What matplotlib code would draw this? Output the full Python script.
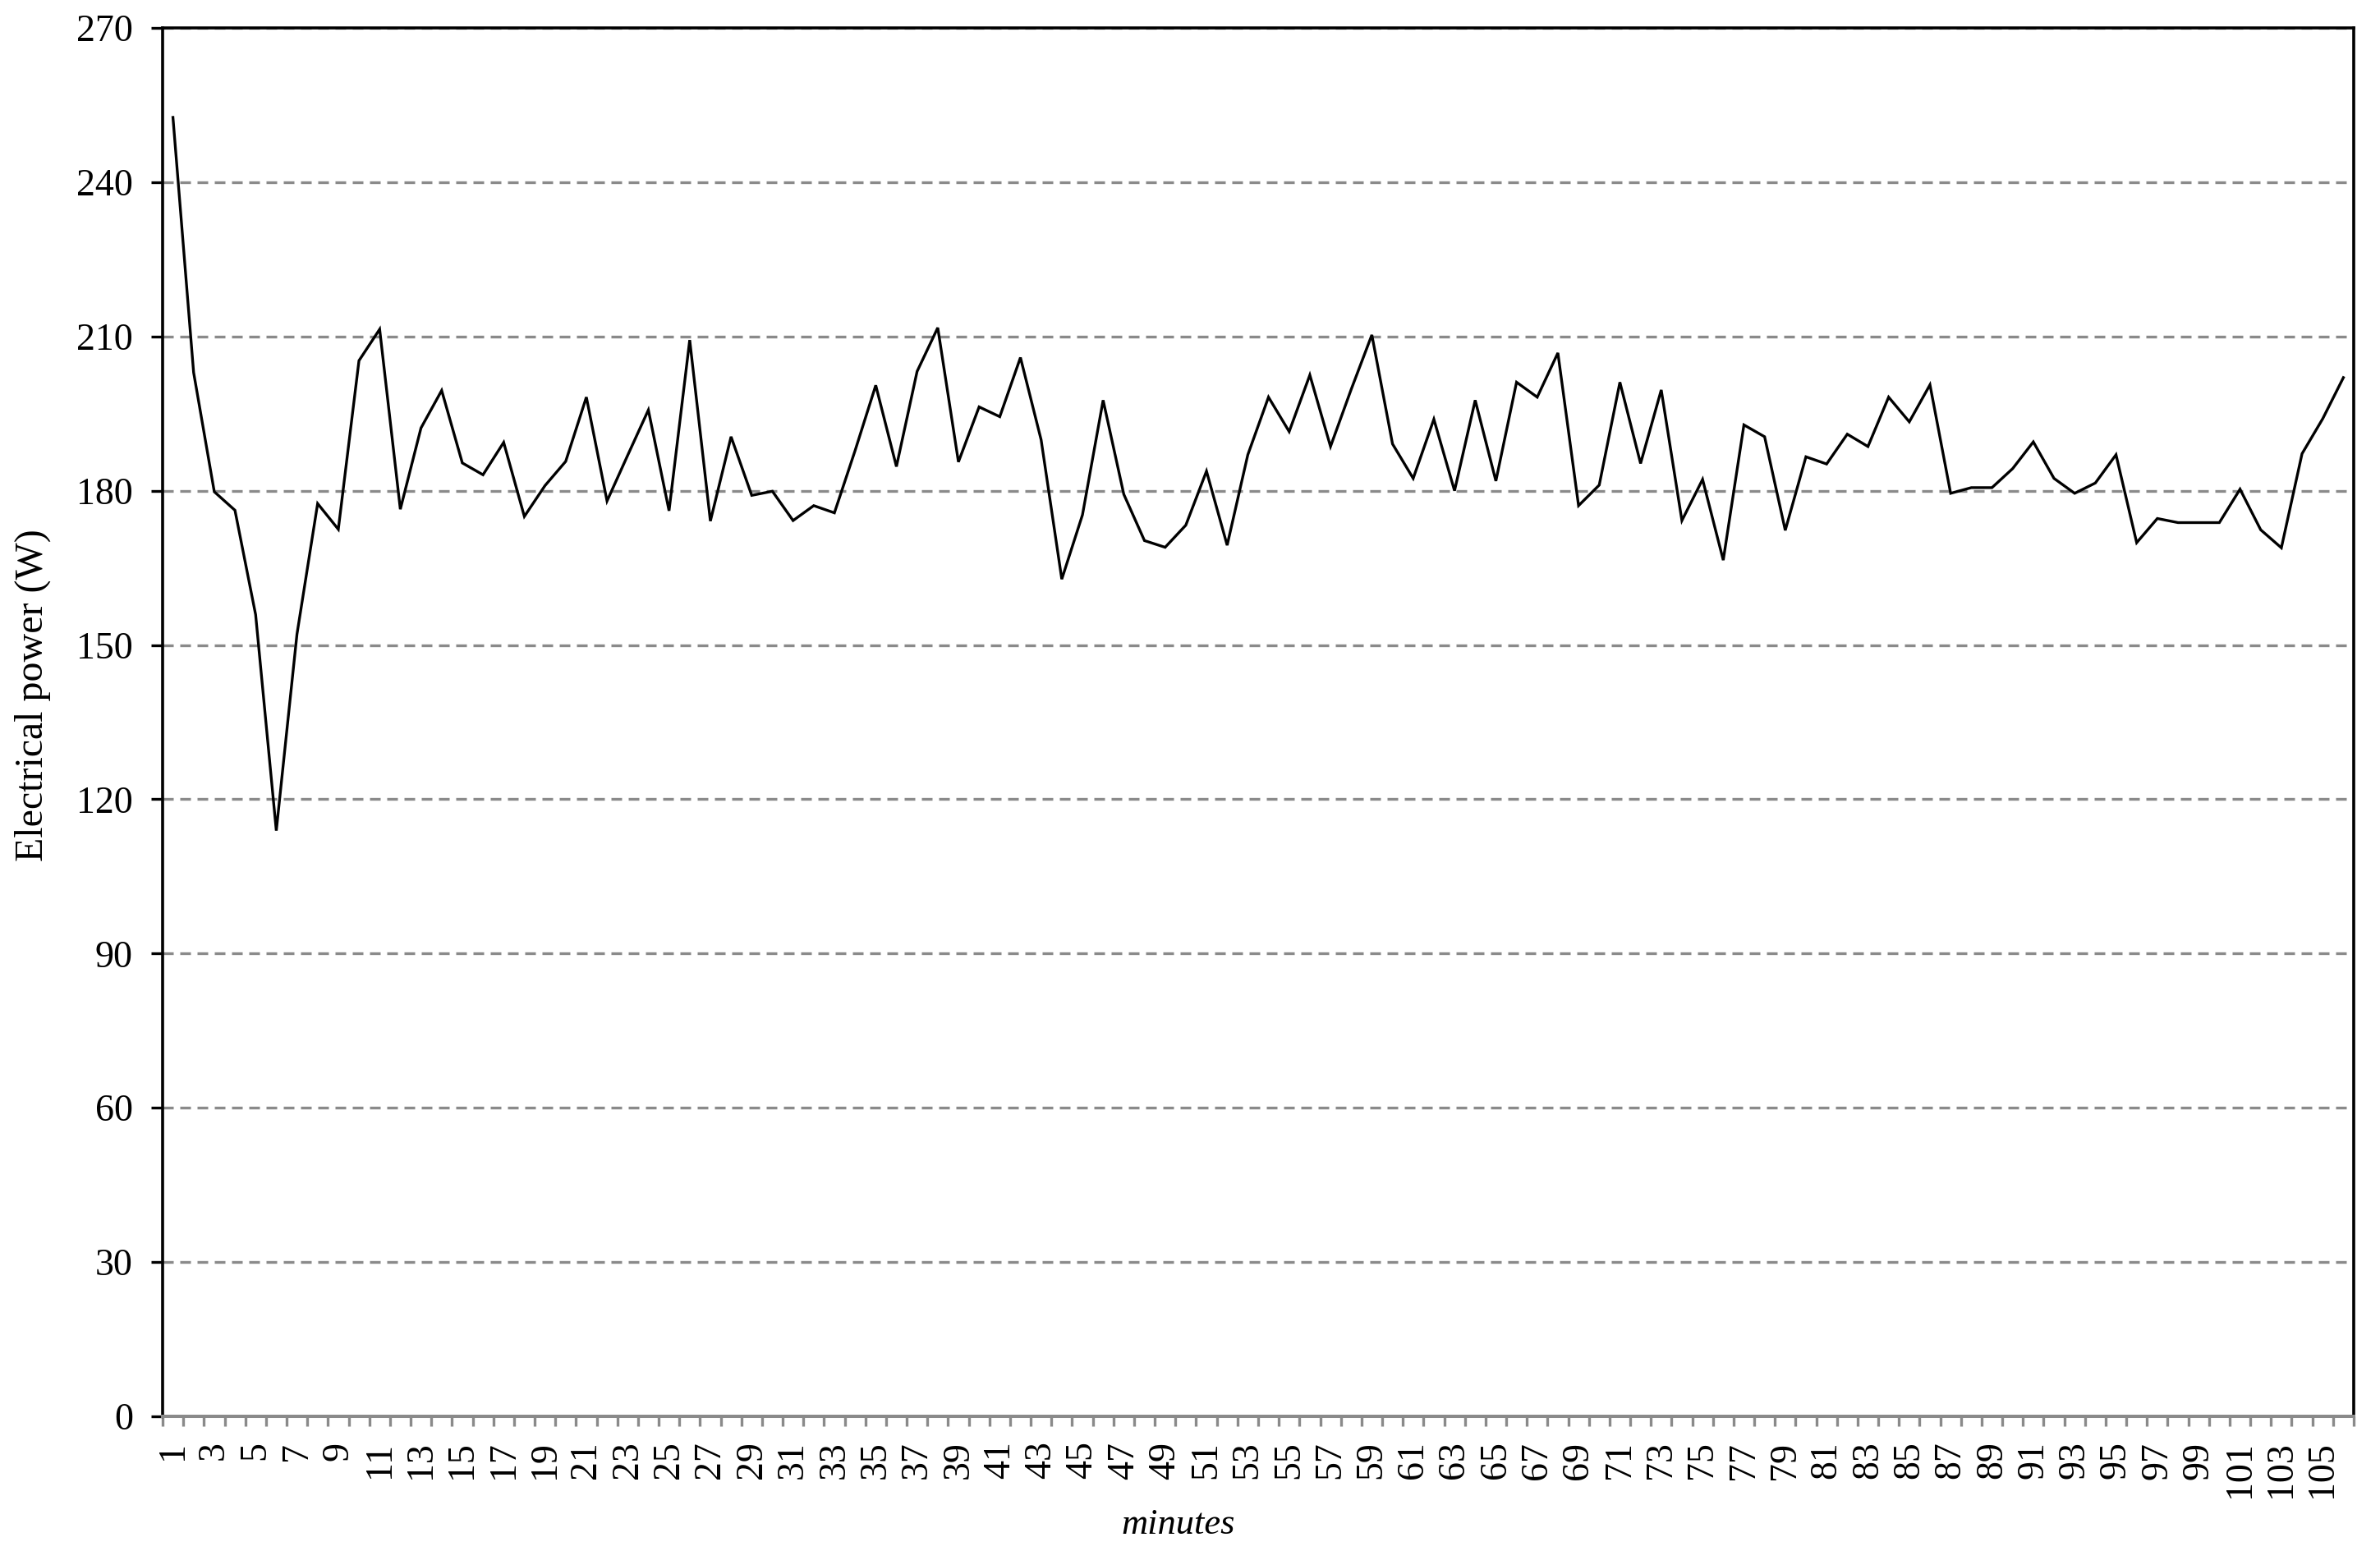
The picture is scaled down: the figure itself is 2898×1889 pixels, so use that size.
import matplotlib
matplotlib.use("Agg")
import matplotlib.pyplot as plt
from matplotlib.ticker import FixedLocator

minutes = list(range(1, 107))
power = [
    252.6, 203.0, 179.8, 176.2, 155.9, 113.9, 152.1, 177.5, 172.5, 205.3,
    211.4, 176.4, 192.2, 199.5, 185.4, 183.1, 189.4, 175.0, 181.0, 185.7,
    198.2, 178.0, 186.9, 195.7, 176.1, 209.3, 174.1, 190.5, 179.1, 179.9,
    174.2, 177.1, 175.7, 187.8, 200.5, 184.7, 203.2, 211.7, 185.6, 196.3,
    194.4, 205.9, 189.9, 162.8, 175.3, 197.6, 179.3, 170.3, 169.0, 173.3,
    183.8, 169.4, 187.0, 198.2, 191.5, 202.5, 188.6, 199.7, 210.3, 189.1,
    182.4, 193.9, 180.0, 197.6, 181.9, 201.1, 198.2, 206.8, 177.1, 181.1,
    201.1, 185.3, 199.6, 174.2, 182.2, 166.5, 192.8, 190.5, 172.3, 186.6,
    185.2, 191.0, 188.6, 198.2, 193.4, 200.6, 179.5, 180.6, 180.6, 184.3,
    189.5, 182.4, 179.5, 181.5, 187.0, 169.9, 174.6, 173.8, 173.8, 173.8,
    180.3, 172.4, 168.9, 187.2, 194.0, 202.0,
]
y_ticks = [0, 30, 60, 90, 120, 150, 180, 210, 240, 270]
x_labels = [str(m) for m in minutes[::2]]

plt.rcParams['font.family'] = ['Liberation Serif', 'DejaVu Serif']

fig = plt.figure(figsize=(28.98, 18.89), dpi=100)
ax = fig.add_axes([198/2898, 1 - 1725/1889, (2866 - 198)/2898, (1725 - 34)/1889])

grey = '#8a8a8a'
ax.plot(minutes, power, color='black', lw=2.4, zorder=3, solid_joinstyle='miter')

ax.set_xlim(0.5, len(minutes) + 0.5)
ax.set_ylim(y_ticks[0], y_ticks[-1])
ax.set_yticks(y_ticks)
ax.set_yticklabels([str(v) for v in y_ticks], fontsize=33)

ax.xaxis.set_major_locator(FixedLocator(minutes[::2]))
ax.set_xticklabels(x_labels, rotation=90, fontsize=33)
ax.xaxis.set_minor_locator(FixedLocator([m - 0.5 for m in minutes] + [minutes[-1] + 0.5]))

ax.tick_params(axis='x', which='major', length=0, pad=22)
ax.tick_params(axis='x', which='minor', length=8.6, width=2.4, color=grey, direction='out')
ax.tick_params(axis='y', which='major', length=10, width=2.4, color='black', pad=16, direction='out')

for s in ['left', 'right', 'top']:
    ax.spines[s].set_color('black')
    ax.spines[s].set_linewidth(2.6)
ax.spines['bottom'].set_color(grey)
ax.spines['bottom'].set_linewidth(2.9)

ax.yaxis.grid(True, color=grey, lw=2.4, linestyle=(0, (3.9, 2.4)), zorder=1)
ax.set_axisbelow(True)

fig.text(52/2898, 1 - 847/1889, 'Electrical power (W)', rotation=90, fontsize=34.5,
         ha='center', va='baseline', rotation_mode='anchor')
fig.text(1435/2898, 1 - 1868/1889, 'minutes', fontsize=32, style='italic',
         ha='center', va='baseline')

fig.savefig('out.png', dpi=100)
